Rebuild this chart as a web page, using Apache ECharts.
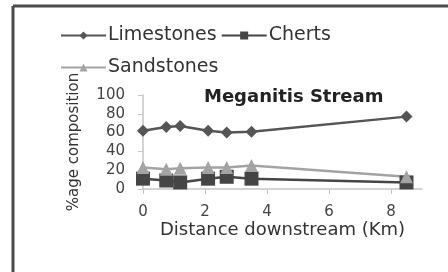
<!DOCTYPE html>
<html>
<head>
<meta charset="utf-8">
<script src="https://cdn.jsdelivr.net/npm/echarts@6/dist/echarts.min.js"></script>
<style>
  html, body { margin: 0; padding: 0; background: #fff; }
  #chart { width: 448px; height: 272px; }
</style>
</head>
<body>
<div id="chart"></div>
<script>
// distance downstream (km) and % composition per rock type
const distances = [0, 0.75, 1.2, 2.1, 2.7, 3.5, 8.5]
const limestones = [62, 66, 67, 62, 60, 61, 77]
const cherts = [11, 9, 7, 11, 13, 11, 7]
const sandstones = [23, 21, 22, 23, 23, 25, 13]
const xTicks = [0, 2, 4, 6, 8]

const pairs = (ys) => distances.map((d, i) => [d, ys[i]])

const font = 'DejaVu Sans'
const chart = echarts.init(document.getElementById('chart'))

chart.setOption({
  animation: false,
  textStyle: {fontFamily: font},
  title: {
    text: 'Meganitis Stream',
    left: 199,
    top: 83,
    textStyle: {fontSize: 18, fontWeight: 'bold', color: '#222', fontFamily: font}
  },
  legend: [
    {
      data: ['Limestones', 'Cherts'],
      left: 55,
      top: 21,
      itemWidth: 45,
      itemHeight: 10,
      itemGap: 4,
      textStyle: {fontSize: 19, color: '#333', padding: [0, 0, 0, -3]}
    },
    {
      data: ['Sandstones'],
      left: 55,
      top: 53,
      itemWidth: 45,
      itemHeight: 10,
      textStyle: {fontSize: 19, color: '#333', padding: [0, 0, 0, -3]}
    }
  ],
  grid: {left: 143, right: 26, top: 95, bottom: 83},
  xAxis: {
    type: 'value',
    min: 0,
    max: 9,
    interval: 2,
    name: 'Distance downstream (Km)',
    nameLocation: 'middle',
    nameGap: 32,
    nameTextStyle: {fontSize: 18, color: '#333'},
    axisLine: {lineStyle: {color: '#c4c4c4', width: 1.5}},
    axisTick: {show: true, customValues: xTicks, length: 5, lineStyle: {color: '#c4c4c4'}},
    axisLabel: {customValues: xTicks, fontSize: 15, color: '#444', margin: 16},
    splitLine: {show: false}
  },
  yAxis: {
    type: 'value',
    min: 0,
    max: 100,
    interval: 20,
    name: '%age composition',
    nameLocation: 'middle',
    nameRotate: 90,
    nameGap: 61,
    nameTextStyle: {fontSize: 15, color: '#333'},
    axisLine: {show: true, lineStyle: {color: '#c4c4c4', width: 1.5}},
    axisTick: {show: true, length: 5, lineStyle: {color: '#c4c4c4'}},
    axisLabel: {fontSize: 15, color: '#444', margin: 18},
    splitLine: {show: false}
  },
  series: [
    {
      name: 'Limestones',
      type: 'line',
      data: pairs(limestones),
      symbol: 'diamond',
      symbolSize: 12,
      itemStyle: {color: '#555'},
      lineStyle: {color: '#555', width: 2.5}
    },
    {
      name: 'Cherts',
      type: 'line',
      data: pairs(cherts),
      symbol: 'rect',
      symbolSize: 14,
      itemStyle: {color: '#454545'},
      lineStyle: {color: '#454545', width: 2.5}
    },
    {
      name: 'Sandstones',
      type: 'line',
      data: pairs(sandstones),
      symbol: 'triangle',
      symbolSize: 13,
      itemStyle: {color: '#a3a3a3'},
      lineStyle: {color: '#a3a3a3', width: 2.5}
    }
  ],
  graphic: [
    {type: 'line', shape: {x1: 13, y1: 6, x2: 448, y2: 6}, style: {stroke: '#4a4a4a', lineWidth: 3}},
    {type: 'line', shape: {x1: 13, y1: 6, x2: 13, y2: 272}, style: {stroke: '#4a4a4a', lineWidth: 3}}
  ]
})
</script>
</body>
</html>
